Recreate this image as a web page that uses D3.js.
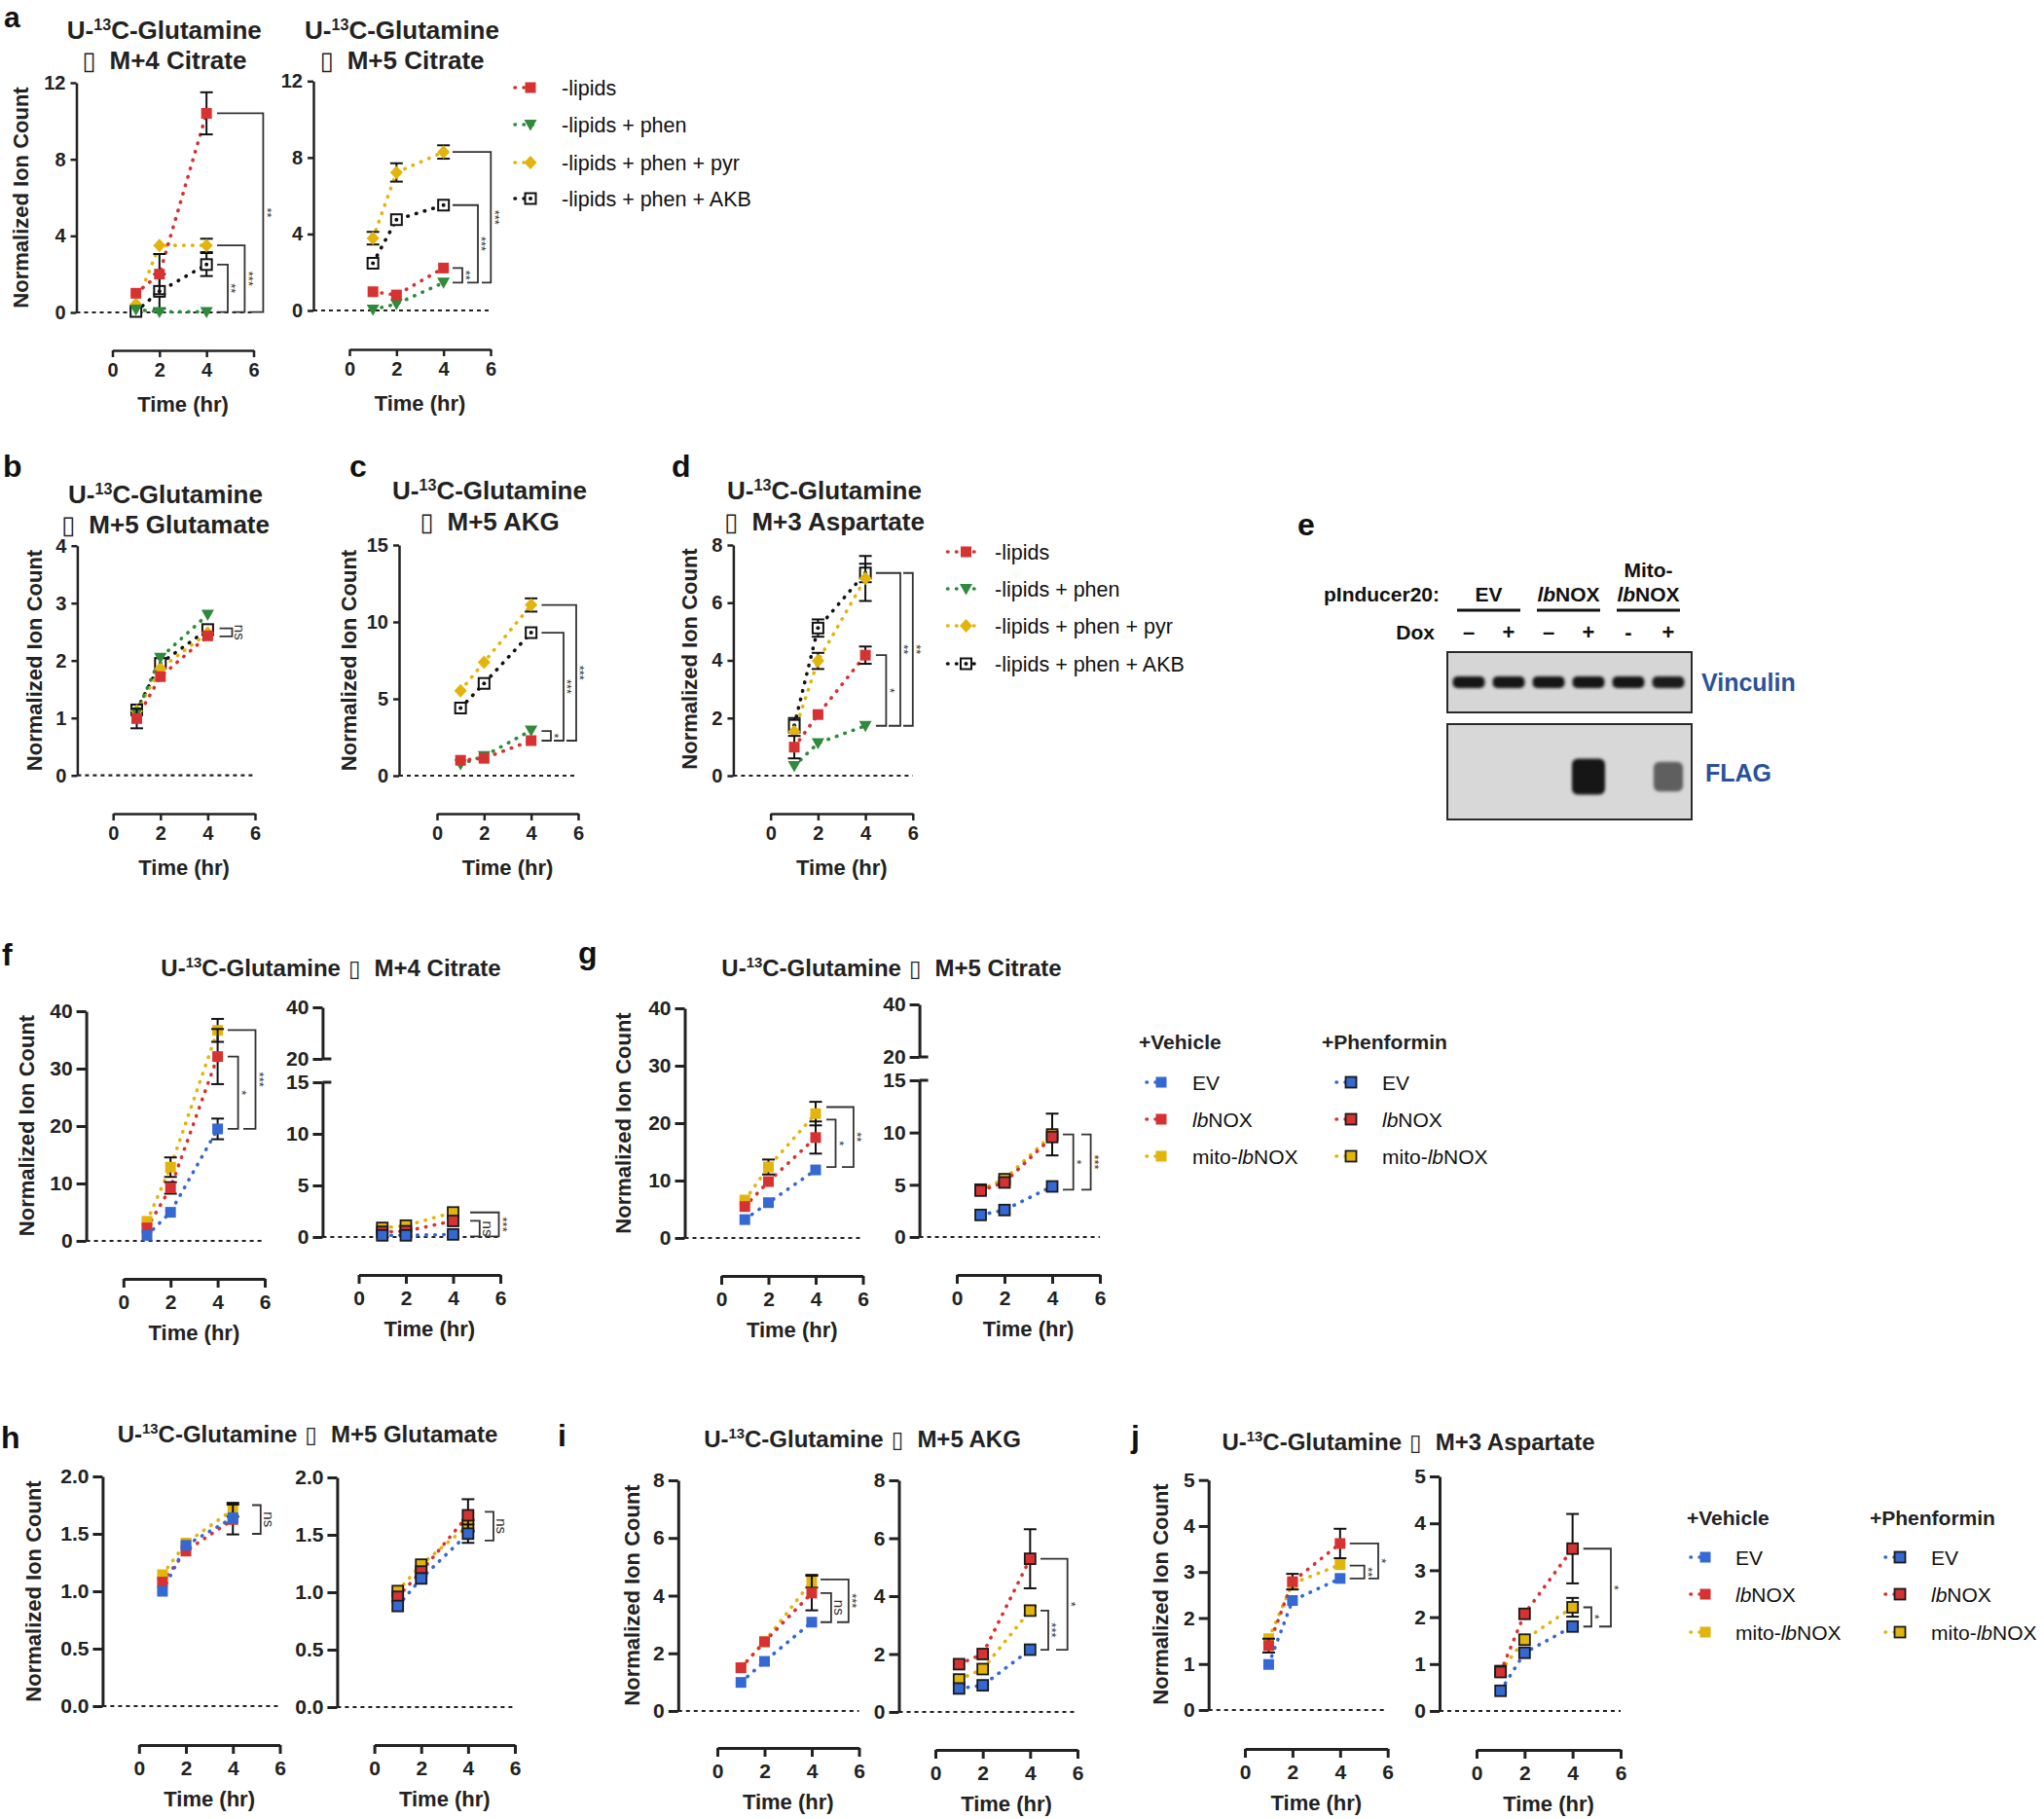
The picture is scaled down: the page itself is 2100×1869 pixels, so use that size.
<!DOCTYPE html>
<html>
<head>
<meta charset="utf-8">
<script src="https://cdn.jsdelivr.net/npm/d3@7"></script>
<style>
html,body{margin:0;padding:0;background:#fff;}
svg{display:block;font-family:"Liberation Sans",Arial,Helvetica,sans-serif;}
</style>
</head>
<body>
<svg id="fig" width="2100" height="1869" xmlns="http://www.w3.org/2000/svg"></svg>
<script>
// ================= DATA =================
const timePoints = [1, 2, 4];
const xTickValues = [0, 2, 4, 6];
const yAxisTitle = "Normalized Ion Count";
const xAxisTitle = "Time (hr)";
const metabolites = ["M+4 Citrate", "M+5 Citrate", "M+5 Glutamate", "M+5 AKG", "M+3 Aspartate"];
const lipidConditions = ["-lipids", "-lipids + phen", "-lipids + phen + pyr", "-lipids + phen + AKB"];
const noxGroups = ["EV", "lbNOX", "mito-lbNOX"];
const treatments = ["+Vehicle", "+Phenformin"];
const panelLetters = ["a", "b", "c", "d", "e", "f", "g", "h", "i", "j"];

// y tick labels
const aTicks = [0, 4, 8, 12];
const bTicks = [0, 1, 2, 3, 4];
const cTicks = [0, 5, 10, 15];
const dTicks = [0, 2, 4, 6, 8];
const citLeftTicks = [0, 10, 20, 30, 40];
const brokenLowTicks = [0, 5, 10, 15];
const brokenHighTicks = [20, 40];
const hTicks = [0, 0.5, 1.0, 1.5, 2.0];
const iTicks = [0, 2, 4, 6, 8];
const jTicks = [0, 1, 2, 3, 4, 5];
const noErr = [0, 0, 0];

// a: M+4 Citrate
const aCit4Lipids = [1.0, 2.0, 10.4];
const aCit4LipidsErr = [0, 1.05, 1.1];
const aCit4Phen = [0.15, 0.03, 0.03];
const aCit4Pyr = [0.42, 3.5, 3.5];
const aCit4PyrErr = [0, 0, 0.35];
const aCit4Akb = [0.05, 1.1, 2.5];
const aCit4AkbErr = [0, 0.9, 0.6];
const aCit4Sig = [[2.5, 0.02, "**"], [3.5, 0.02, "***"], [10.4, 0.02, "**"]];
// a: M+5 Citrate
const aCit5Lipids = [0.98, 0.81, 2.22];
const aCit5Phen = [0.05, 0.34, 1.46];
const aCit5Pyr = [3.78, 7.22, 8.29];
const aCit5PyrErr = [0.33, 0.48, 0.35];
const aCit5Akb = [2.47, 4.75, 5.51];
const aCit5Sig = [[2.22, 1.46, "**"], [5.51, 1.46, "***"], [8.29, 1.46, "***"]];
// b: M+5 Glutamate
const bGluLipids = [0.99, 1.72, 2.43];
const bGluLipidsErr = [0.17, 0, 0];
const bGluPhen = [1.1, 2.05, 2.8];
const bGluPyr = [1.12, 1.86, 2.48];
const bGluAkb = [1.14, 1.95, 2.54];
const bGluSig = [[2.56, 2.42, "ns"]];
// c: M+5 AKG
const cAkgLipids = [1.0, 1.13, 2.28];
const cAkgPhen = [0.75, 1.28, 2.94];
const cAkgPyr = [5.53, 7.38, 11.1];
const cAkgPyrErr = [0, 0, 0.43];
const cAkgAkb = [4.4, 6.0, 9.3];
const cAkgSig = [[2.9, 2.28, "*"], [9.3, 2.28, "***"], [11.1, 2.28, "***"]];
// d: M+3 Aspartate
const dAspLipids = [0.99, 2.12, 4.18];
const dAspLipidsErr = [0.39, 0, 0.3];
const dAspPhen = [0.34, 1.13, 1.73];
const dAspPyr = [1.53, 3.98, 6.84];
const dAspPyrErr = [0, 0.28, 0.78];
const dAspAkb = [1.75, 5.12, 7.03];
const dAspAkbErr = [0.25, 0.3, 0.32];
const dAspSig = [[4.18, 1.73, "*"], [7.03, 1.73, "**"], [7.03, 1.73, "**"]];

// f: M+4 Citrate (vehicle / phenformin)
const fCit4VehEv = [0.96, 4.98, 19.5];
const fCit4VehEvErr = [0, 0, 1.8];
const fCit4VehLb = [2.26, 9.22, 32.1];
const fCit4VehLbErr = [0, 1.0, 4.8];
const fCit4VehMito = [3.4, 12.84, 36.66];
const fCit4VehMitoErr = [0, 1.7, 2.0];
const fCit4VehSig = [[32.1, 19.5, "*"], [36.7, 19.5, "***"]];
const fCit4PhenEv = [0.16, 0.16, 0.25];
const fCit4PhenLb = [0.5, 0.56, 1.56];
const fCit4PhenMito = [0.88, 1.1, 2.38];
const fCit4PhenSig = [[1.56, 0.05, "ns"], [2.38, 0.05, "***"]];
// g: M+5 Citrate
const gCit5VehEv = [3.2, 6.15, 11.85];
const gCit5VehLb = [5.47, 9.82, 17.49];
const gCit5VehLbErr = [0, 0, 2.8];
const gCit5VehMito = [6.6, 12.36, 21.66];
const gCit5VehMitoErr = [0, 1.3, 2.05];
const gCit5VehSig = [[20.6, 12.36, "*"], [22.8, 12.36, "**"]];
const gCit5PhenEv = [2.11, 2.58, 4.84];
const gCit5PhenLb = [4.44, 5.22, 9.57];
const gCit5PhenMito = [4.53, 5.53, 9.81];
const gCit5PhenMitoErr = [0, 0, 2.0];
const gCit5PhenSig = [[9.81, 4.53, "*"], [9.81, 4.53, "***"]];
// h: M+5 Glutamate
const hGluVehEv = [1.0, 1.40, 1.64];
const hGluVehLb = [1.08, 1.35, 1.625];
const hGluVehLbErr = [0, 0, 0.13];
const hGluVehMito = [1.144, 1.42, 1.71];
const hGluVehMitoErr = [0, 0, 0.06];
const hGluVehSig = [[1.75, 1.5, "ns"]];
const hGluPhenEv = [0.88, 1.12, 1.51];
const hGluPhenEvErr = [0, 0, 0.08];
const hGluPhenLb = [0.96, 1.18, 1.67];
const hGluPhenLbErr = [0, 0, 0.14];
const hGluPhenMito = [1.01, 1.24, 1.58];
const hGluPhenMitoErr = [0, 0, 0.05];
const hGluPhenSig = [[1.70, 1.45, "ns"]];
// i: M+5 AKG
const iAkgVehEv = [0.99, 1.72, 3.08];
const iAkgVehLb = [1.5, 2.4, 4.09];
const iAkgVehLbErr = [0, 0, 0.6];
const iAkgVehMito = [1.5, 2.4, 4.5];
const iAkgVehMitoErr = [0, 0, 0.22];
const iAkgVehSig = [[4.09, 3.08, "ns"], [4.56, 3.08, "***"]];
const iAkgPhenEv = [0.81, 0.92, 2.15];
const iAkgPhenLb = [1.65, 2.0, 5.29];
const iAkgPhenLbErr = [0, 0, 1.02];
const iAkgPhenMito = [1.12, 1.48, 3.5];
const iAkgPhenMitoErr = [0, 0, 0.15];
const iAkgPhenSig = [[3.5, 2.15, "***"], [5.29, 2.15, "*"]];
// j: M+3 Aspartate
const jAspVehEv = [0.99, 2.38, 2.86];
const jAspVehLb = [1.4, 2.79, 3.62];
const jAspVehLbErr = [0.15, 0.17, 0.32];
const jAspVehMito = [1.55, 2.75, 3.16];
const jAspVehSig = [[3.14, 2.86, "**"], [3.62, 2.86, "*"]];
const jAspPhenEv = [0.43, 1.24, 1.8];
const jAspPhenLb = [0.83, 2.07, 3.46];
const jAspPhenLbErr = [0, 0, 0.74];
const jAspPhenMito = [0.85, 1.52, 2.21];
const jAspPhenMitoErr = [0, 0, 0.2];
const jAspPhenSig = [[2.21, 1.8, "*"], [3.46, 1.8, "*"]];

// e: western blot
const blotLanes = ["EV-", "EV+", "lb-", "lb+", "mito-", "mito+"];
const doxSigns = ["\u2013", "+", "\u2013", "+", "-", "+"];
const vinculinLevel = [1, 1, 1, 1, 1, 0.95];
const flagLevel = [0, 0, 0, 1, 0, 0.62];
const constructs = ["EV", "lbNOX", "Mito-|lbNOX"];
const blotTargets = ["Vinculin", "FLAG"];

// ================= DRAWING =================
const svg = d3.select("#fig");
svg.append("rect").attr("width", 2100).attr("height", 1869).attr("fill", "#fff");
const INK = "#222";
const COL = {red: "#d73232", green: "#2f8a3c", yellow: "#e3b40c", blue: "#3468d2", black: "#111"};
const defs = svg.append("defs");
defs.append("filter").attr("id", "blur").attr("x", "-30%").attr("y", "-60%").attr("width", "160%").attr("height", "220%")
  .append("feGaussianBlur").attr("stdDeviation", 1.4);

function styleAxis(sel, sw, fs) {
  sel.attr("font-family", null).attr("font-size", null);
  sel.select(".domain").attr("stroke", INK).attr("stroke-width", sw);
  sel.selectAll(".tick line").attr("stroke", INK).attr("stroke-width", sw);
  sel.selectAll(".tick text").attr("fill", INK).attr("font-size", fs).attr("font-weight", "bold");
}

function drawMarker(g, shape, cx, cy, color) {
  if (shape === "square") {
    g.append("rect").attr("x", cx - 5.5).attr("y", cy - 5.5).attr("width", 11).attr("height", 11).attr("fill", color);
  } else if (shape === "sqOut") {
    g.append("rect").attr("x", cx - 5.5).attr("y", cy - 5.5).attr("width", 11).attr("height", 11)
      .attr("fill", color).attr("stroke", "#1a1a1a").attr("stroke-width", 1.8);
  } else if (shape === "tri") {
    g.append("path").attr("d", `M${cx - 6.5},${cy - 5}L${cx + 6.5},${cy - 5}L${cx},${cy + 6.5}Z`).attr("fill", color);
  } else if (shape === "diamond") {
    g.append("path").attr("d", `M${cx},${cy - 7}L${cx + 6.5},${cy}L${cx},${cy + 7}L${cx - 6.5},${cy}Z`).attr("fill", color);
  } else if (shape === "akb") {
    g.append("rect").attr("x", cx - 5.5).attr("y", cy - 5.5).attr("width", 11).attr("height", 11)
      .attr("fill", "#fff").attr("stroke", "#111").attr("stroke-width", 2);
    g.append("circle").attr("cx", cx).attr("cy", cy).attr("r", 2).attr("fill", "#111");
  }
}

function dotted(sel, color) {
  return sel.attr("fill", "none").attr("stroke", color).attr("stroke-width", 3.6)
    .attr("stroke-linecap", "round").attr("stroke-dasharray", "0.5 8.5");
}

function adSeries(lip, lipE, phen, phenE, pyr, pyrE, akb, akbE) {
  return [
    {values: akb, err: akbE, color: COL.black, shape: "akb"},
    {values: pyr, err: pyrE, color: COL.yellow, shape: "diamond"},
    {values: phen, err: phenE, color: COL.green, shape: "tri"},
    {values: lip, err: lipE, color: COL.red, shape: "square"}
  ];
}
function fjSeries(ev, evE, lb, lbE, mito, mitoE, outlined) {
  const sh = outlined ? "sqOut" : "square";
  return [
    {values: mito, err: mitoE, color: COL.yellow, shape: sh},
    {values: lb, err: lbE, color: COL.red, shape: sh},
    {values: ev, err: evE, color: COL.blue, shape: sh}
  ];
}

function makePlot(p) {
  const big = p.style === "fj";
  const sw = big ? 3 : 2.5;
  const fs = big ? 21 : 20;
  const g = svg.append("g");
  const x = d3.scaleLinear().domain([0, 6]).range([p.x0, p.x6]);
  const y = d3.scaleLinear().domain([0, p.yMax]).range([p.y0, p.yTop]);
  const fmt = p.fmt || d3.format("d");

  // zero dashed line
  g.append("line").attr("x1", p.ax).attr("x2", x(6)).attr("y1", y(0)).attr("y2", y(0))
    .attr("stroke", INK).attr("stroke-width", 2.2).attr("stroke-dasharray", "4 4");

  const ya = g.append("g").attr("transform", `translate(${p.ax},0)`)
    .call(d3.axisLeft(y).tickValues(p.yTicks).tickFormat(fmt).tickSize(big ? 10 : 6).tickPadding(big ? 4 : 5).tickSizeOuter(0));
  styleAxis(ya, sw, fs);
  if (p.hi) {
    const yh = d3.scaleLinear().domain([p.hi.min, p.hi.max]).range([p.hi.yMin, p.hi.yMax]);
    const yb = g.append("g").attr("transform", `translate(${p.ax},0)`)
      .call(d3.axisLeft(yh).tickValues(brokenHighTicks).tickFormat(d3.format("d")).tickSize(10).tickPadding(4).tickSizeOuter(0));
    styleAxis(yb, sw, fs);
    [yh(p.hi.min), y(p.yMax)].forEach(yy => {
      g.append("line").attr("x1", p.ax).attr("x2", p.ax + 9).attr("y1", yy).attr("y2", yy)
        .attr("stroke", INK).attr("stroke-width", sw);
    });
  }
  const xa = g.append("g").attr("transform", `translate(0,${p.xAxisY})`)
    .call(d3.axisBottom(x).tickValues(xTickValues).tickFormat(d3.format("d")).tickSize(big ? 9 : 7).tickPadding(big ? 7 : 6).tickSizeOuter(0));
  styleAxis(xa, sw, fs);

  // lines
  const line = d3.line().x((d, i) => x(timePoints[i])).y(d => y(d));
  p.series.forEach(s => dotted(g.append("path").attr("d", line(s.values)), s.color));
  // error bars + markers
  p.series.forEach(s => {
    s.values.forEach((v, i) => {
      const e = s.err[i];
      if (e > 0) {
        const cx = x(timePoints[i]);
        const y1 = y(v - e), y2 = y(v + e);
        g.append("line").attr("x1", cx).attr("x2", cx).attr("y1", y1).attr("y2", y2).attr("stroke", "#111").attr("stroke-width", 2);
        [y1, y2].forEach(yy => g.append("line").attr("x1", cx - 6.5).attr("x2", cx + 6.5).attr("y1", yy).attr("y2", yy)
          .attr("stroke", "#111").attr("stroke-width", 2));
      }
    });
    s.values.forEach((v, i) => drawMarker(g, s.shape, x(timePoints[i]), y(v), s.color));
  });

  // significance brackets
  p.sig.forEach((b, k) => {
    const bx = p.bx[k], yt = y(b[0]), yb = y(b[1]);
    const ts = p.ts ? p.ts[k] : p.arm;
    const bs = p.bs ? p.bs[k] : p.arm;
    g.append("path").attr("d", `M${ts},${yt}H${bx}V${yb}H${bs}`).attr("fill", "none")
      .attr("stroke", "#333").attr("stroke-width", 1.8);
    const isNs = b[2] === "ns";
    const fsz = isNs ? 15 : 13;
    const base = bx + 7 - (isNs ? 0.27 : 0.58) * fsz;
    g.append("text").attr("transform", `translate(${base},${(yt + yb) / 2}) rotate(90)`)
      .attr("text-anchor", "middle").attr("font-size", fsz).attr("fill", "#333").text(b[2]);
  });

  if (p.ylab) {
    g.append("text").attr("transform", `translate(${p.ylab[0] + 8},${p.ylab[1]}) rotate(-90)`)
      .attr("text-anchor", "middle").attr("font-size", 22).attr("font-weight", "bold").attr("fill", INK).text(yAxisTitle);
  }
  g.append("text").attr("x", (p.x0 + p.x6) / 2).attr("y", p.xAxisY + 63).attr("text-anchor", "middle")
    .attr("font-size", 22).attr("font-weight", "bold").attr("fill", INK).text(xAxisTitle);
}

function tracerText(t, fs) {
  t.append("tspan").text("U-");
  t.append("tspan").attr("dy", -9).attr("font-size", fs * 0.62).text("13");
  t.append("tspan").attr("dy", 9).text("C-Glutamine");
}
function titleTwo(cx, y1, y2, metab) {
  const t1 = svg.append("text").attr("x", cx).attr("y", y1).attr("text-anchor", "middle")
    .attr("font-size", 26).attr("font-weight", "bold").attr("fill", INK);
  tracerText(t1, 26);
  const t2 = svg.append("text").attr("x", cx).attr("y", y2).attr("text-anchor", "middle")
    .attr("font-size", 26).attr("font-weight", "bold").attr("fill", INK);
  t2.append("tspan").attr("font-family", "DejaVu Sans").attr("font-weight", "normal").attr("font-size", 26).text("\u25AF");
  t2.append("tspan").attr("dx", 14).text(metab);
}
function titleOne(cx, yb, metab) {
  const t = svg.append("text").attr("x", cx).attr("y", yb).attr("text-anchor", "middle")
    .attr("font-size", 24).attr("font-weight", "bold").attr("fill", INK);
  tracerText(t, 24);
  t.append("tspan").attr("dx", 8).attr("font-family", "DejaVu Sans").attr("font-weight", "normal").attr("font-size", 23).text("\u25AF");
  t.append("tspan").attr("dx", 14).text(metab);
}

function italicLb(t, name) {
  const idx = name.indexOf("lb");
  if (idx < 0) { t.append("tspan").text(name); return; }
  if (idx > 0) t.append("tspan").text(name.slice(0, idx));
  t.append("tspan").attr("font-style", "italic").text("lb");
  t.append("tspan").text(name.slice(idx + 2));
}

function legendAD(L) {
  const specs = [
    {color: COL.red, shape: "square"}, {color: COL.green, shape: "tri"},
    {color: COL.yellow, shape: "diamond"}, {color: COL.black, shape: "akb"}
  ];
  lipidConditions.forEach((name, k) => {
    const yy = L.ys[k];
    dotted(svg.append("path").attr("d", `M${L.l1},${yy}H${L.l2}`), specs[k].color);
    drawMarker(svg, specs[k].shape, L.mx, yy, specs[k].color);
    svg.append("text").attr("x", L.tx).attr("y", yy + 7.5).attr("font-size", 21.5).attr("fill", "#111").text(name);
  });
}

function legendFJ(L) {
  const cols = [COL.blue, COL.red, COL.yellow];
  treatments.forEach((hdr, c) => {
    svg.append("text").attr("x", L.h[c]).attr("y", L.hy).attr("font-size", 21).attr("font-weight", "bold").attr("fill", INK).text(hdr);
    noxGroups.forEach((name, k) => {
      const yy = L.ys[k];
      dotted(svg.append("path").attr("d", `M${L.mx[c] - 15},${yy}H${L.mx[c] + 9}`), cols[k]);
      drawMarker(svg, c === 0 ? "square" : "sqOut", L.mx[c], yy, cols[k]);
      const t = svg.append("text").attr("x", L.tx[c]).attr("y", yy + 7.5).attr("font-size", 21).attr("fill", "#111");
      italicLb(t, name);
    });
  });
}

// ---------- panels a-d ----------
makePlot({style: "ad", ax: 78.5, yTop: 85, y0: 321, yMax: 12, yTicks: aTicks, xAxisY: 360, x0: 115.5, x6: 260.5,
  ylab: [21, 203], arm: 223, bx: [234, 251.4, 270.4], bs: [223, 239, 256], sig: aCit4Sig,
  series: adSeries(aCit4Lipids, aCit4LipidsErr, aCit4Phen, noErr, aCit4Pyr, aCit4PyrErr, aCit4Akb, aCit4AkbErr)});
makePlot({style: "ad", ax: 322, yTop: 83.3, y0: 319, yMax: 12, yTicks: aTicks, xAxisY: 359, x0: 359, x6: 504,
  arm: 465, bx: [475, 491, 504.3], bs: [465, 480, 495], sig: aCit5Sig,
  series: adSeries(aCit5Lipids, noErr, aCit5Phen, noErr, aCit5Pyr, aCit5PyrErr, aCit5Akb, noErr)});
makePlot({style: "ad", ax: 79.4, yTop: 560.7, y0: 796.7, yMax: 4, yTicks: bTicks, xAxisY: 836, x0: 116.2, x6: 262,
  ylab: [34.7, 678.5], arm: 225.5, bx: [238.5], sig: bGluSig,
  series: adSeries(bGluLipids, bGluLipidsErr, bGluPhen, noErr, bGluPyr, noErr, bGluAkb, noErr)});
makePlot({style: "ad", ax: 410, yTop: 560, y0: 797, yMax: 15, yTicks: cTicks, xAxisY: 836, x0: 449, x6: 594,
  ylab: [357.8, 678.5], arm: 556.4, bx: [566, 579, 592], bs: [556.4, 569, 582], sig: cAkgSig,
  series: adSeries(cAkgLipids, noErr, cAkgPhen, noErr, cAkgPyr, cAkgPyrErr, cAkgAkb, noErr)});
makePlot({style: "ad", ax: 753.4, yTop: 560, y0: 797, yMax: 8, yTicks: dTicks, xAxisY: 836, x0: 791.7, x6: 937.8,
  ylab: [708.4, 677], arm: 899.9, bx: [910.4, 925, 937.8], ts: [899.9, 899.9, 928], bs: [899.9, 913, 928], sig: dAspSig,
  series: adSeries(dAspLipids, dAspLipidsErr, dAspPhen, noErr, dAspPyr, dAspPyrErr, dAspAkb, dAspAkbErr)});

titleTwo(168.8, 40, 71, metabolites[0]);
titleTwo(413, 40, 71, metabolites[1]);
titleTwo(170, 517, 548, metabolites[2]);
titleTwo(503, 513, 545, metabolites[3]);
titleTwo(847, 513, 545, metabolites[4]);

legendAD({mx: 545, l1: 529, l2: 555, tx: 577, ys: [90, 128, 167, 204]});
legendAD({mx: 992.5, l1: 973.5, l2: 1001, tx: 1022, ys: [567, 605, 643, 682]});

// ---------- panels f-j ----------
makePlot({style: "fj", ax: 88.6, yTop: 1039, y0: 1275, yMax: 40, yTicks: citLeftTicks, xAxisY: 1314, x0: 126.8, x6: 272,
  ylab: [26.8, 1156.5], arm: 233.9, bx: [244.6, 262.5], bs: [233.9, 250], sig: fCit4VehSig,
  series: fjSeries(fCit4VehEv, fCit4VehEvErr, fCit4VehLb, fCit4VehLbErr, fCit4VehMito, fCit4VehMitoErr, false)});
makePlot({style: "fj", ax: 331.4, yTop: 1112, y0: 1271, yMax: 15, yTicks: brokenLowTicks,
  hi: {min: 20, max: 40, yMin: 1088, yMax: 1035}, xAxisY: 1310, x0: 368.5, x6: 514,
  arm: 483, bx: [492.8, 512.5], bs: [483, 498], sig: fCit4PhenSig,
  series: fjSeries(fCit4PhenEv, noErr, fCit4PhenLb, noErr, fCit4PhenMito, noErr, true)});
makePlot({style: "fj", ax: 703.5, yTop: 1036, y0: 1272, yMax: 40, yTicks: citLeftTicks, xAxisY: 1311, x0: 741, x6: 886.5,
  ylab: [640.4, 1154], arm: 849, bx: [858.5, 876.9], bs: [849, 865], sig: gCit5VehSig,
  series: fjSeries(gCit5VehEv, noErr, gCit5VehLb, gCit5VehLbErr, gCit5VehMito, gCit5VehMitoErr, false)});
makePlot({style: "fj", ax: 944.6, yTop: 1110, y0: 1271, yMax: 15, yTicks: brokenLowTicks,
  hi: {min: 20, max: 40, yMin: 1086, yMax: 1032}, xAxisY: 1310, x0: 983, x6: 1130,
  arm: 1092, bx: [1102.7, 1120.6], ts: [1092, 1111], bs: [1092, 1111], sig: gCit5PhenSig,
  series: fjSeries(gCit5PhenEv, noErr, gCit5PhenLb, noErr, gCit5PhenMito, gCit5PhenMitoErr, true)});
makePlot({style: "fj", ax: 105.4, yTop: 1517, y0: 1753, yMax: 2, yTicks: hTicks, fmt: d3.format(".1f"), xAxisY: 1793, x0: 142.8, x6: 287.5,
  ylab: [34, 1635], arm: 259, bx: [267.8], sig: hGluVehSig,
  series: fjSeries(hGluVehEv, noErr, hGluVehLb, hGluVehLbErr, hGluVehMito, hGluVehMitoErr, false)});
makePlot({style: "fj", ax: 346.4, yTop: 1518, y0: 1754, yMax: 2, yTicks: hTicks, fmt: d3.format(".1f"), xAxisY: 1793, x0: 384.6, x6: 529,
  arm: 498, bx: [507], sig: hGluPhenSig,
  series: fjSeries(hGluPhenEv, hGluPhenEvErr, hGluPhenLb, hGluPhenLbErr, hGluPhenMito, hGluPhenMitoErr, true)});
makePlot({style: "fj", ax: 696.8, yTop: 1521, y0: 1758, yMax: 8, yTicks: iTicks, xAxisY: 1796, x0: 737, x6: 882.5,
  ylab: [648.6, 1639], arm: 843, bx: [853.9, 871.8], bs: [843, 860], sig: iAkgVehSig,
  series: fjSeries(iAkgVehEv, noErr, iAkgVehLb, iAkgVehLbErr, iAkgVehMito, iAkgVehMitoErr, false)});
makePlot({style: "fj", ax: 923.5, yTop: 1521, y0: 1759, yMax: 8, yTicks: iTicks, xAxisY: 1798, x0: 961, x6: 1107,
  arm: 1069, bx: [1077, 1096.7], bs: [1069, 1085], sig: iAkgPhenSig,
  series: fjSeries(iAkgPhenEv, noErr, iAkgPhenLb, iAkgPhenLbErr, iAkgPhenMito, iAkgPhenMitoErr, true)});
makePlot({style: "fj", ax: 1241.7, yTop: 1520.7, y0: 1757, yMax: 5, yTicks: jTicks, xAxisY: 1797, x0: 1279, x6: 1425.7,
  ylab: [1191.7, 1638], arm: 1386.7, bx: [1401.7, 1416], bs: [1386.7, 1406], sig: jAspVehSig,
  series: fjSeries(jAspVehEv, noErr, jAspVehLb, jAspVehLbErr, jAspVehMito, noErr, false)});
makePlot({style: "fj", ax: 1479, yTop: 1517, y0: 1758, yMax: 5, yTicks: jTicks, xAxisY: 1798, x0: 1517, x6: 1665,
  arm: 1626.7, bx: [1635, 1655], bs: [1626.7, 1643], sig: jAspPhenSig,
  series: fjSeries(jAspPhenEv, noErr, jAspPhenLb, jAspPhenLbErr, jAspPhenMito, jAspPhenMitoErr, true)});

titleOne(340, 1003, metabolites[0]);
titleOne(916, 1003, metabolites[1]);
titleOne(316, 1482, metabolites[2]);
titleOne(886, 1487, metabolites[3]);
titleOne(1447, 1490, metabolites[4]);

legendFJ({h: [1170, 1358], hy: 1078, ys: [1112, 1150, 1188], mx: [1193, 1388], tx: [1225, 1420]});
legendFJ({h: [1733, 1921], hy: 1567, ys: [1600, 1638, 1677], mx: [1752, 1952], tx: [1783, 1984]});

// ---------- panel e: western blot ----------
const lane = d3.scalePoint().domain(blotLanes).range([1509, 1714]);
const shade = d3.scaleLinear().domain([0, 1]).range(["#d8d8d8", "#141414"]);
svg.append("text").attr("x", 1479).attr("y", 618).attr("text-anchor", "end").attr("font-size", 21).attr("font-weight", "bold").attr("fill", "#111").text("pInducer20:");
svg.append("text").attr("x", 1474).attr("y", 657).attr("text-anchor", "end").attr("font-size", 21).attr("font-weight", "bold").attr("fill", "#111").text("Dox");
constructs.forEach((c, k) => {
  const l1 = lane(blotLanes[2 * k]), l2 = lane(blotLanes[2 * k + 1]);
  const cx = (l1 + l2) / 2;
  const parts = c.split("|");
  if (parts.length > 1) {
    svg.append("text").attr("x", cx).attr("y", 593).attr("text-anchor", "middle").attr("font-size", 21).attr("font-weight", "bold").attr("fill", "#111").text(parts[0]);
  }
  const t = svg.append("text").attr("x", cx).attr("y", 618).attr("text-anchor", "middle").attr("font-size", 21).attr("font-weight", "bold").attr("fill", "#111");
  italicLb(t, parts[parts.length - 1]);
  svg.append("line").attr("x1", l1 - 12).attr("x2", l2 + 12).attr("y1", 627).attr("y2", 627).attr("stroke", "#111").attr("stroke-width", 3.2);
});
blotLanes.forEach((ln, i) => {
  svg.append("text").attr("x", lane(ln)).attr("y", 657).attr("text-anchor", "middle").attr("font-size", 22).attr("font-weight", "bold").attr("fill", "#111").text(doxSigns[i]);
});
// vinculin box
svg.append("rect").attr("x", 1487).attr("y", 670).attr("width", 251).attr("height", 62).attr("fill", "#d6d6d6").attr("stroke", "#2a2a2a").attr("stroke-width", 2);
blotLanes.forEach((ln, i) => {
  svg.append("rect").attr("x", lane(ln) - 16.5).attr("y", 695).attr("width", 33).attr("height", 12).attr("rx", 5)
    .attr("fill", shade(vinculinLevel[i])).attr("filter", "url(#blur)");
});
// FLAG box
svg.append("rect").attr("x", 1487).attr("y", 744).attr("width", 251).attr("height", 98).attr("fill", "#d8d8d8").attr("stroke", "#2a2a2a").attr("stroke-width", 2);
blotLanes.forEach((ln, i) => {
  if (flagLevel[i] <= 0) return;
  const h = 20 + 17 * flagLevel[i];
  const w = 24 + 10 * flagLevel[i];
  svg.append("rect").attr("x", lane(ln) - w / 2).attr("y", 798 - h / 2).attr("width", w).attr("height", h).attr("rx", 6)
    .attr("fill", shade(flagLevel[i])).attr("filter", "url(#blur)");
});
svg.append("text").attr("x", 1748).attr("y", 710).attr("font-size", 25).attr("font-weight", "bold").attr("fill", "#2b519c").text(blotTargets[0]);
svg.append("text").attr("x", 1752).attr("y", 803).attr("font-size", 25).attr("font-weight", "bold").attr("fill", "#2b519c").text(blotTargets[1]);

// ---------- panel letters ----------
const letterPos = [[4, 28], [3, 490], [359, 490], [690, 490], [1333, 550], [2, 992], [594, 990], [1, 1488], [573, 1486], [1162, 1487]];
panelLetters.forEach((l, k) => {
  svg.append("text").attr("x", letterPos[k][0]).attr("y", letterPos[k][1]).attr("font-size", k === 0 ? 30 : 32).attr("font-weight", "bold").attr("fill", "#111").text(l);
});
</script>
</body>
</html>
